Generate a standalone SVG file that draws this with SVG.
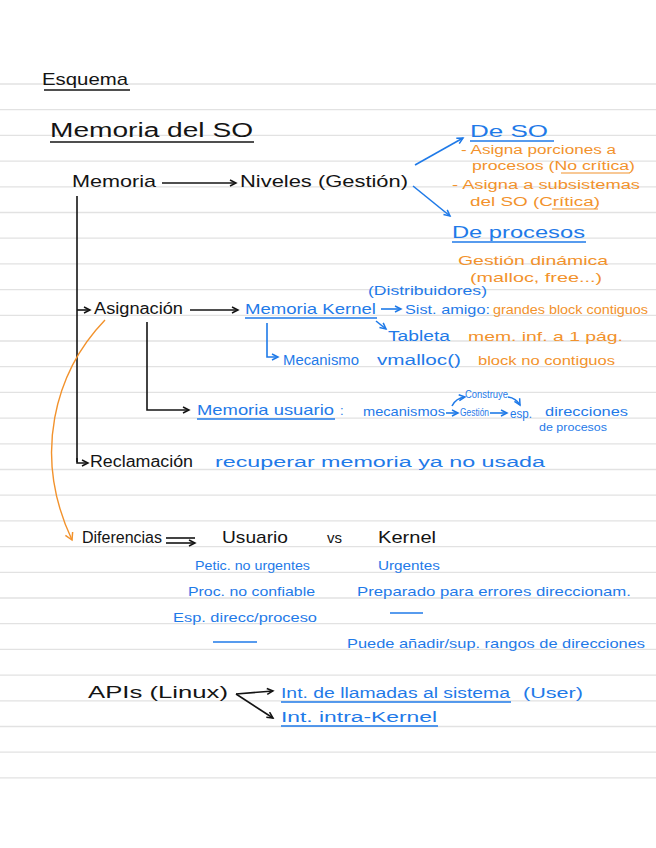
<svg xmlns="http://www.w3.org/2000/svg" width="656" height="848" viewBox="0 0 656 848">
<style>
text{font-family:"Liberation Sans","DejaVu Sans",sans-serif}
.k{fill:#141414;font-size:17px}
.b{fill:#1f7ae8;font-size:13px}
.o{fill:#f2922c;font-size:12px}
.rule{stroke:#e2e2e2;stroke-width:1.3}
.ck{stroke:#141414;stroke-width:1.6;fill:none}
.cb{stroke:#1f7ae8;stroke-width:1.6;fill:none}
.co{stroke:#f2922c;stroke-width:1.4;fill:none}
.ub{stroke:#1f7ae8;stroke-width:1.4}
.uo{stroke:#f2922c;stroke-width:1.2}
.uk{stroke:#141414;stroke-width:1.5}
</style>
<defs>
<marker id="ak" markerWidth="10" markerHeight="10" refX="7" refY="4" orient="auto" markerUnits="userSpaceOnUse"><path d="M1,1 L7,4 L1,7" fill="none" stroke="#141414" stroke-width="1.5"/></marker>
<marker id="ab" markerWidth="10" markerHeight="10" refX="7" refY="4" orient="auto" markerUnits="userSpaceOnUse"><path d="M1,1 L7,4 L1,7" fill="none" stroke="#1f7ae8" stroke-width="1.5"/></marker>
<marker id="ao" markerWidth="12" markerHeight="12" refX="8" refY="5" orient="auto" markerUnits="userSpaceOnUse"><path d="M1,1 L8,5 L1,9" fill="none" stroke="#f2922c" stroke-width="1.5"/></marker>
</defs>
<rect width="656" height="848" fill="#ffffff"/>
<g id="rules">
<line class="rule" x1="0" x2="656" y1="84" y2="84"/>
<line class="rule" x1="0" x2="656" y1="109.7" y2="109.7"/>
<line class="rule" x1="0" x2="656" y1="135.4" y2="135.4"/>
<line class="rule" x1="0" x2="656" y1="161.1" y2="161.1"/>
<line class="rule" x1="0" x2="656" y1="186.8" y2="186.8"/>
<line class="rule" x1="0" x2="656" y1="212.5" y2="212.5"/>
<line class="rule" x1="0" x2="656" y1="238.2" y2="238.2"/>
<line class="rule" x1="0" x2="656" y1="263.9" y2="263.9"/>
<line class="rule" x1="0" x2="656" y1="289.6" y2="289.6"/>
<line class="rule" x1="0" x2="656" y1="315.3" y2="315.3"/>
<line class="rule" x1="0" x2="656" y1="341" y2="341"/>
<line class="rule" x1="0" x2="656" y1="366.7" y2="366.7"/>
<line class="rule" x1="0" x2="656" y1="392.4" y2="392.4"/>
<line class="rule" x1="0" x2="656" y1="418.1" y2="418.1"/>
<line class="rule" x1="0" x2="656" y1="443.8" y2="443.8"/>
<line class="rule" x1="0" x2="656" y1="469.5" y2="469.5"/>
<line class="rule" x1="0" x2="656" y1="495.2" y2="495.2"/>
<line class="rule" x1="0" x2="656" y1="520.9" y2="520.9"/>
<line class="rule" x1="0" x2="656" y1="546.6" y2="546.6"/>
<line class="rule" x1="0" x2="656" y1="572.3" y2="572.3"/>
<line class="rule" x1="0" x2="656" y1="598" y2="598"/>
<line class="rule" x1="0" x2="656" y1="623.7" y2="623.7"/>
<line class="rule" x1="0" x2="656" y1="649.4" y2="649.4"/>
<line class="rule" x1="0" x2="656" y1="675.1" y2="675.1"/>
<line class="rule" x1="0" x2="656" y1="700.8" y2="700.8"/>
<line class="rule" x1="0" x2="656" y1="726.5" y2="726.5"/>
<line class="rule" x1="0" x2="656" y1="752.2" y2="752.2"/>
<line class="rule" x1="0" x2="656" y1="777.9" y2="777.9"/>
</g>

<g id="connectors">
<line class="ck" x1="162" y1="183" x2="236" y2="183" marker-end="url(#ak)"/>
<line class="cb" x1="415" y1="165" x2="463" y2="138" marker-end="url(#ab)"/>
<line class="cb" x1="413" y1="186" x2="450" y2="216" marker-end="url(#ab)"/>
<line class="ck" x1="77" y1="196" x2="77" y2="462"/>
<line class="ck" x1="77" y1="310" x2="90" y2="310" marker-end="url(#ak)"/>
<line class="ck" x1="190" y1="310" x2="238" y2="310" marker-end="url(#ak)"/>
<line class="cb" x1="381" y1="309" x2="401" y2="309" marker-end="url(#ab)"/>
<line class="cb" x1="376" y1="321" x2="386" y2="329" marker-end="url(#ab)"/>
<polyline class="cb" points="267,323 267,357 278,357" marker-end="url(#ab)"/>
<polyline class="ck" points="147,322 147,410 189,410" marker-end="url(#ak)"/>
<line class="cb" x1="446" y1="413" x2="458" y2="413" marker-end="url(#ab)"/>
<line class="cb" x1="490" y1="413" x2="507" y2="413" marker-end="url(#ab)"/>
<path class="cb" d="M452,406 Q456,398 465,397" marker-end="url(#ab)"/>
<path class="cb" d="M508,397 Q516,398 520,405" marker-end="url(#ab)"/>
<polyline class="ck" points="77,458 77,463 88,463" marker-end="url(#ak)"/>
<path class="co" d="M105,320 C55,372 32,455 72,540" marker-end="url(#ao)"/>
<line class="ck" x1="166" y1="538" x2="195" y2="538"/>
<line class="ck" x1="166" y1="543" x2="195" y2="543" marker-end="url(#ak)"/>
<line class="ck" x1="236" y1="694" x2="273" y2="691" marker-end="url(#ak)"/>
<line class="ck" x1="236" y1="694" x2="273" y2="718" marker-end="url(#ak)"/>
</g>

<g id="title">
<text class="k" x="42" y="85" textLength="86" lengthAdjust="spacingAndGlyphs">Esquema</text>
<line class="uk" x1="44" y1="90" x2="130" y2="90"/>
</g>
<g id="subtitle">
<text class="k" x="50" y="137" style="font-size:20px" textLength="203" lengthAdjust="spacingAndGlyphs">Memoria del SO</text>
<line class="uk" x1="50" y1="142" x2="254" y2="142"/>
</g>
<g id="memoria">
<text class="k" x="72" y="187" textLength="84" lengthAdjust="spacingAndGlyphs">Memoria</text>
</g>
<g id="niveles">
<text class="k" x="240" y="187" textLength="168" lengthAdjust="spacingAndGlyphs">Niveles (Gestión)</text>
</g>
<g id="de-so">
<text class="b" x="470" y="137" style="font-size:17px" textLength="78" lengthAdjust="spacingAndGlyphs">De SO</text>
<line class="ub" x1="470" y1="141" x2="554" y2="141"/>
<text class="o" x="461" y="154" textLength="155" lengthAdjust="spacingAndGlyphs">- Asigna porciones a</text>
<text class="o" x="472" y="170" textLength="163" lengthAdjust="spacingAndGlyphs">procesos (No crítica)</text>
<line class="uo" x1="561" y1="173" x2="630" y2="173"/>
<text class="o" x="452" y="189" textLength="188" lengthAdjust="spacingAndGlyphs">- Asigna a subsistemas</text>
<text class="o" x="470" y="206" textLength="130" lengthAdjust="spacingAndGlyphs">del SO (Crítica)</text>
<line class="uo" x1="552" y1="209" x2="598" y2="209"/>
</g>
<g id="de-procesos">
<text class="b" x="452" y="238" style="font-size:16px" textLength="133" lengthAdjust="spacingAndGlyphs">De procesos</text>
<line class="ub" x1="452" y1="242" x2="586" y2="242"/>
<text class="o" x="458" y="265" style="font-size:13px" textLength="150" lengthAdjust="spacingAndGlyphs">Gestión dinámica</text>
<text class="o" x="470" y="282" style="font-size:13px" textLength="132" lengthAdjust="spacingAndGlyphs">(malloc, free...)</text>
</g>
<g id="asignacion">
<text class="k" x="94" y="314" style="font-size:16px" textLength="89" lengthAdjust="spacingAndGlyphs">Asignación</text>
</g>
<g id="memoria-kernel">
<text class="b" x="245" y="314" style="font-size:15px" textLength="131" lengthAdjust="spacingAndGlyphs">Memoria Kernel</text>
<line class="ub" x1="245" y1="318" x2="377" y2="318"/>
<text class="b" x="368" y="295" textLength="119" lengthAdjust="spacingAndGlyphs">(Distribuidores)</text>
<text class="b" x="405" y="314" textLength="85" lengthAdjust="spacingAndGlyphs">Sist. amigo:</text>
<text class="o" x="493" y="314" style="font-size:13px" textLength="155" lengthAdjust="spacingAndGlyphs">grandes block contiguos</text>
<text class="b" x="388" y="341" style="font-size:14px" textLength="62" lengthAdjust="spacingAndGlyphs">Tableta</text>
<text class="o" x="468" y="341" style="font-size:13px" textLength="155" lengthAdjust="spacingAndGlyphs">mem. inf. a 1 pág.</text>
<text class="b" x="283" y="365" style="font-size:14px" textLength="76" lengthAdjust="spacingAndGlyphs">Mecanismo</text>
<text class="b" x="377" y="365" style="font-size:14px" textLength="84" lengthAdjust="spacingAndGlyphs">vmalloc()</text>
<text class="o" x="478" y="365" style="font-size:13px" textLength="137" lengthAdjust="spacingAndGlyphs">block no contiguos</text>
</g>
<g id="memoria-usuario">
<text class="b" x="197" y="415" style="font-size:15px" textLength="137" lengthAdjust="spacingAndGlyphs">Memoria usuario</text>
<line class="ub" x1="197" y1="419" x2="335" y2="419"/>
<text class="b" x="340" y="415">:</text>
<text class="b" x="363" y="416" textLength="82" lengthAdjust="spacingAndGlyphs">mecanismos</text>
<text class="b" x="460" y="416" style="font-size:11px" textLength="29" lengthAdjust="spacingAndGlyphs">Gestión</text>
<text class="b" x="465" y="398" style="font-size:10px" textLength="43" lengthAdjust="spacingAndGlyphs">Construye</text>
<text class="b" x="510" y="418" style="font-size:12px" textLength="22" lengthAdjust="spacingAndGlyphs">esp.</text>
<text class="b" x="545" y="416" style="font-size:12px" textLength="83" lengthAdjust="spacingAndGlyphs">direcciones</text>
<text class="b" x="539" y="431" style="font-size:11px" textLength="68" lengthAdjust="spacingAndGlyphs">de procesos</text>
</g>
<g id="reclamacion">
<text class="k" x="90" y="467" style="font-size:16px" textLength="103" lengthAdjust="spacingAndGlyphs">Reclamación</text>
<text class="b" x="215" y="467" style="font-size:14px" textLength="330" lengthAdjust="spacingAndGlyphs">recuperar memoria ya no usada</text>
</g>
<g id="diferencias">
<text class="k" x="82" y="543" style="font-size:16px" textLength="80" lengthAdjust="spacingAndGlyphs">Diferencias</text>
<text class="k" x="222" y="543" textLength="66" lengthAdjust="spacingAndGlyphs">Usuario</text>
<text class="k" x="327" y="543" style="font-size:15px" textLength="15" lengthAdjust="spacingAndGlyphs">vs</text>
<text class="k" x="378" y="543" textLength="58" lengthAdjust="spacingAndGlyphs">Kernel</text>
</g>
<g id="usuario-col">
<text class="b" x="195" y="570" textLength="115" lengthAdjust="spacingAndGlyphs">Petic. no urgentes</text>
<text class="b" x="188" y="596" textLength="127" lengthAdjust="spacingAndGlyphs">Proc. no confiable</text>
<text class="b" x="173" y="622" textLength="144" lengthAdjust="spacingAndGlyphs">Esp. direcc/proceso</text>
<line class="ub" x1="213" y1="642" x2="257" y2="642"/>
</g>
<g id="kernel-col">
<text class="b" x="378" y="570" textLength="62" lengthAdjust="spacingAndGlyphs">Urgentes</text>
<text class="b" x="357" y="596" textLength="274" lengthAdjust="spacingAndGlyphs">Preparado para errores direccionam.</text>
<line class="ub" x1="390" y1="613" x2="423" y2="613"/>
<text class="b" x="347" y="648" textLength="298" lengthAdjust="spacingAndGlyphs">Puede añadir/sup. rangos de direcciones</text>
</g>
<g id="apis">
<text class="k" x="88" y="698" textLength="140" lengthAdjust="spacingAndGlyphs">APIs (Linux)</text>
</g>
<g id="api-syscalls">
<text class="b" x="281" y="698" style="font-size:14px" textLength="229" lengthAdjust="spacingAndGlyphs">Int. de llamadas al sistema</text>
<line class="ub" x1="281" y1="702" x2="511" y2="702"/>
<text class="b" x="523" y="698" style="font-size:14px" textLength="60" lengthAdjust="spacingAndGlyphs">(User)</text>
</g>
<g id="api-kernel">
<text class="b" x="281" y="722" style="font-size:14px" textLength="156" lengthAdjust="spacingAndGlyphs">Int. intra-Kernel</text>
<line class="ub" x1="281" y1="726" x2="438" y2="726"/>
</g>
</svg>
